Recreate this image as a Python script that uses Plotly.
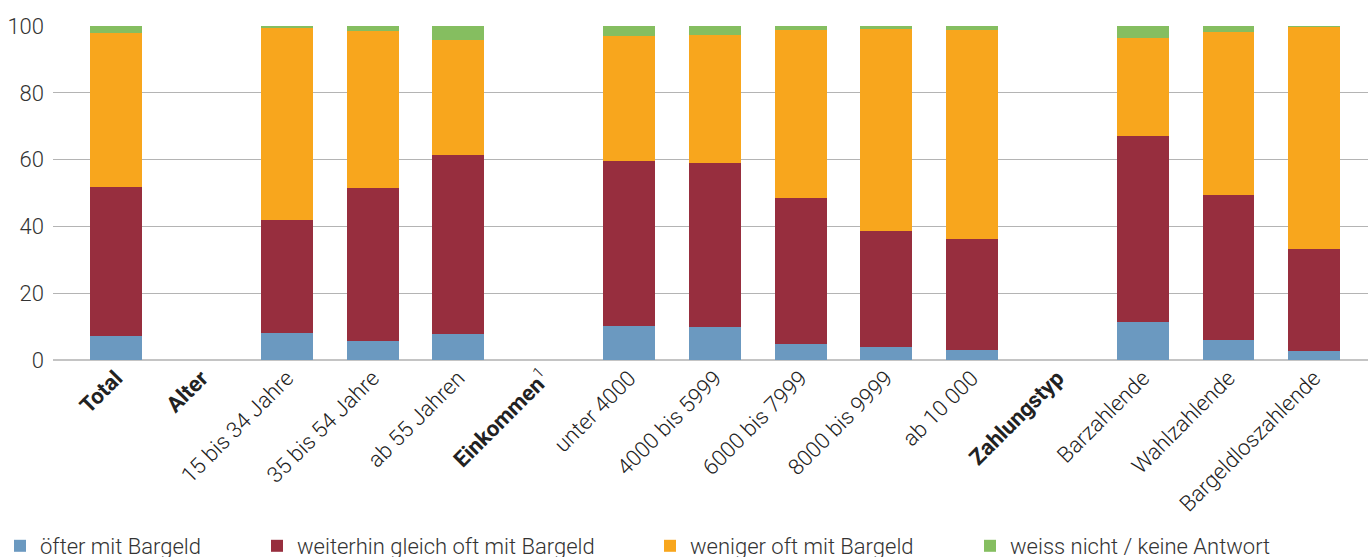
import plotly.graph_objects as go

categories = [
    "<b>Total</b>", "<b>Alter</b>", "15 bis 34 Jahre", "35 bis 54 Jahre", "ab 55 Jahren",
    "<b>Einkommen</b><sup>1</sup>", "unter 4000", "4000 bis 5999", "6000 bis 7999",
    "8000 bis 9999", "ab 10 000", "<b>Zahlungstyp</b>", "Barzahlende", "Wahlzahlende",
    "Bargeldloszahlende",
]

oefter = [7.2, None, 8.1, 5.7, 7.8, None, 10.2, 9.9, 4.8, 3.9, 3.0, None, 11.4, 6.0, 2.7]
gleich = [44.6, None, 33.8, 45.8, 53.6, None, 49.4, 49.1, 43.7, 34.7, 33.2, None, 55.7, 43.4, 30.5]
weniger = [46.1, None, 57.6, 47.0, 34.4, None, 37.5, 38.3, 50.4, 60.5, 62.7, None, 29.3, 48.9, 66.5]
weiss = [2.1, None, 0.5, 1.5, 4.2, None, 2.9, 2.7, 1.1, 0.9, 1.1, None, 3.6, 1.7, 0.3]

series_names = [
    "öfter mit Bargeld",
    "weiterhin gleich oft mit Bargeld",
    "weniger oft mit Bargeld",
    "weiss nicht / keine Antwort",
]
series_values = [oefter, gleich, weniger, weiss]
colors = ["#6B99C0", "#972E3E", "#F8A61D", "#85BE60"]
legend_ids = ["legend", "legend2", "legend3", "legend4"]
legend_x_px = [-2, 257, 650, 970]

FONT = "Roboto, 'Liberation Sans', Arial, sans-serif"
FS = 22

fig = go.Figure()
for name, vals, col, lid in zip(series_names, series_values, colors, legend_ids):
    fig.add_trace(go.Bar(
        x=categories, y=vals, name=name, marker=dict(color=col, line=dict(width=0)),
        width=0.607, legend=lid,
    ))

W, H = 1368, 557
legend_common = dict(
    orientation="h", xref="container", yref="container", yanchor="middle",
    xanchor="left", y=1 - 546 / H, bgcolor="rgba(0,0,0,0)",
    font=dict(family=FONT, size=FS, color="#333333", weight=300),
)
layout_legends = {}
for lid, xp in zip(legend_ids, legend_x_px):
    layout_legends[lid] = dict(legend_common, x=xp / W)

fig.update_layout(
    width=W, height=H,
    barmode="stack",
    plot_bgcolor="white", paper_bgcolor="white",
    margin=dict(l=53, r=0, t=26, b=197),
    showlegend=True,
    font=dict(family=FONT, size=FS, color="#333333", weight=300),
    xaxis=dict(
        type="category", range=[-0.736, 14.63], tickangle=-45,
        showgrid=False, showline=False, zeroline=False, ticks="",
        tickfont=dict(family=FONT, size=FS, color="#222222", weight=300),
    ),
    yaxis=dict(
        range=[0, 100], tickvals=[0, 20, 40, 60, 80, 100],
        showgrid=True, gridcolor="#b4b4b4", gridwidth=1,
        zeroline=True, zerolinecolor="#c4c4c4", zerolinewidth=2,
        showline=False, ticks="", ticklabelstandoff=8,
        tickfont=dict(family=FONT, size=FS, color="#333333", weight=300),
    ),
    **layout_legends,
)

fig.write_html(
    "out.html",
    config={"displayModeBar": False},
    post_script="document.body.style.margin='0';document.body.style.padding='0';",
)
